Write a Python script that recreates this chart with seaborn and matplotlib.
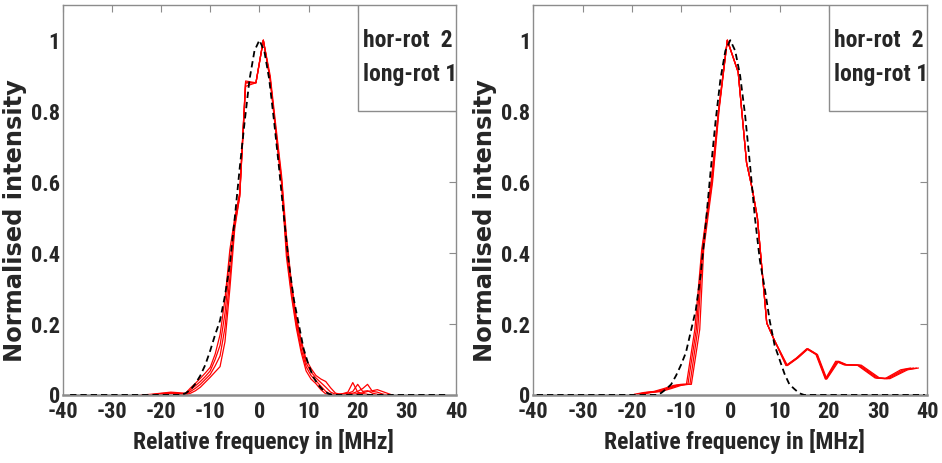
import numpy as np
import pandas as pd
import matplotlib
matplotlib.use("Agg")
import matplotlib.pyplot as plt
import seaborn as sns
from matplotlib.patches import Rectangle

sns.set_style("white")
# narrow bold face, close to the squeezed Arial of the original
plt.rcParams['font.family'] = ['Roboto Condensed', 'Liberation Sans', 'DejaVu Sans']
plt.rcParams['font.weight'] = 'bold'

# ---------------- data ----------------
XTICKS = [-40, -30, -20, -10, 0, 10, 20, 30, 40]
YTICKS = [0, 0.2, 0.4, 0.6, 0.8, 1.0]
YTICKLABELS = ["0", "0.2", "0.4", "0.6", "0.8", "1"]
LEGEND_LINES = ["hor-rot  2", "long-rot 1"]
XLABEL = "Relative frequency in [MHz]"
YLABEL = "Normalised intensity"

# left panel: measured spectra (shared frequency grid, 4 traces)
x_left = [-24, -22, -20, -18, -16, -15, -14, -13, -12, -11, -10, -9, -8, -7, -6, -5, -4,
          -2.8, -0.7, 0.8, 2.2, 3.5, 4.5, 5.5, 6.5, 7.5, 8.5, 9.5, 10.5, 11.5, 12.5,
          13.5, 14.5, 15.5, 17, 18, 19, 20, 21, 22, 23, 24, 25, 26, 27]
left_a = [0, 0.002, 0.005, 0.008, 0.006, 0.005, 0.02, 0.033, 0.047, 0.062, 0.078, 0.115,
          0.17, 0.27, 0.41, 0.50, 0.57, 0.885, 0.88, 1.0, 0.89, 0.72, 0.60, 0.39, 0.28,
          0.19, 0.12, 0.068, 0.045, 0.032, 0.015, 0.003, 0, 0, 0.004, 0.008, 0.035, 0.008,
          0.004, 0.002, 0, 0, 0, 0, 0]
left_b = [0, 0.001, 0.004, 0.006, 0.004, 0.003, 0.015, 0.026, 0.038, 0.052, 0.068, 0.10,
          0.14, 0.23, 0.37, 0.49, 0.565, 0.88, 0.88, 1.0, 0.89, 0.72, 0.60, 0.41, 0.29,
          0.20, 0.13, 0.08, 0.055, 0.04, 0.025, 0.01, 0.002, 0, 0.003, 0.005, 0.01, 0.03,
          0.01, 0.012, 0.005, 0.002, 0, 0, 0]
left_c = [0, 0, 0.003, 0.005, 0.003, 0.001, 0.01, 0.019, 0.03, 0.044, 0.058, 0.082,
          0.11, 0.19, 0.33, 0.48, 0.56, 0.88, 0.88, 1.0, 0.89, 0.73, 0.61, 0.43, 0.31,
          0.21, 0.145, 0.09, 0.065, 0.048, 0.035, 0.022, 0.008, 0.002, 0, 0.003, 0.005,
          0.01, 0.018, 0.03, 0.01, 0.008, 0.003, 0, 0]
left_d = [0, 0, 0.002, 0.004, 0.002, 0, 0.005, 0.012, 0.022, 0.036, 0.05, 0.065,
          0.08, 0.15, 0.30, 0.47, 0.56, 0.87, 0.88, 1.0, 0.90, 0.74, 0.62, 0.45, 0.32,
          0.22, 0.155, 0.10, 0.075, 0.055, 0.045, 0.038, 0.02, 0.005, 0.001, 0, 0.002,
          0.004, 0.006, 0.01, 0.012, 0.015, 0.01, 0.005, 0]

# right panel: measured spectra (shared intensities, 4 slightly shifted frequency sets)
y_right = [0.002, 0.007, 0.01, 0.018, 0.027, 0.03, 0.03, 0.185, 0.41, 0.60, 0.80, 1.0,
           0.91, 0.655, 0.578, 0.50, 0.203, 0.156, 0.083, 0.104, 0.13, 0.114, 0.045,
           0.095, 0.085, 0.084, 0.048, 0.046, 0.071, 0.076]
x_right_a = [-19.5, -17.5, -15.5, -13.5, -11.5, -10, -8.9, -7.2, -5.8, -3.9, -2.4, -0.6,
             1.6, 3.3, 4.5, 5.5, 7.4, 8.9, 11.3, 13.4, 15.5, 17.4, 19.3, 21.4, 23.1,
             25.8, 29.4, 31.4, 34.6, 36.6]
x_right_b = [-19, -17, -15, -13, -11, -9.5, -8.6, -6.9, -5.7, -3.8, -2.4, -0.6,
             1.6, 3.3, 4.5, 5.5, 7.4, 8.9, 11.4, 13.5, 15.6, 17.5, 19.4, 21.6, 23.3,
             26, 29.7, 31.7, 35.1, 37.2]
x_right_c = [-18.5, -16.5, -14.5, -12.5, -10.5, -9, -8.2, -6.6, -5.6, -3.7, -2.35, -0.6,
             1.6, 3.3, 4.5, 5.5, 7.4, 8.9, 11.5, 13.6, 15.7, 17.6, 19.5, 21.8, 23.5,
             26.3, 30, 32, 35.6, 37.8]
x_right_d = [-18, -16, -14, -12, -10, -8.5, -7.9, -6.2, -5.4, -3.6, -2.3, -0.6,
             1.6, 3.3, 4.5, 5.5, 7.4, 8.9, 11.6, 13.7, 15.8, 17.7, 19.6, 22, 23.7,
             26.6, 30.3, 32.4, 36, 38.2]

# fitted profiles (black dashed)
fit_x_left = [-38.5, -16, -15, -14, -13, -12, -11, -10, -9, -8, -7, -6, -5, -4, -3, -2, -1,
              0, 1, 2, 3, 4, 5, 6, 7, 8, 9, 10, 11, 12, 13, 14, 15, 38.4]
fit_y_left = [0, 0, 0.005, 0.015, 0.032, 0.055, 0.085, 0.125, 0.17, 0.21, 0.28, 0.37, 0.50,
              0.64, 0.77, 0.89, 0.97, 1.0, 0.97, 0.89, 0.77, 0.64, 0.50, 0.37, 0.27, 0.20,
              0.13, 0.085, 0.05, 0.028, 0.013, 0.004, 0, 0]
fit_x_right = [-39.3, -15, -14, -13, -12, -11, -10, -9, -8, -7, -6, -5, -4, -3, -2, -1,
               0, 1, 2, 3, 4, 5, 6, 7, 8, 9, 10, 11, 12, 13, 14, 15, 39.5]
fit_y_right = [0, 0, 0.006, 0.017, 0.03, 0.055, 0.085, 0.12, 0.18, 0.24, 0.34, 0.48, 0.63,
               0.77, 0.89, 0.97, 1.0, 0.97, 0.90, 0.79, 0.65, 0.50, 0.38, 0.30, 0.21, 0.14,
               0.10, 0.06, 0.03, 0.017, 0.005, 0, 0]

left_traces = [(x_left, left_a), (x_left, left_b), (x_left, left_c), (x_left, left_d)]
right_traces = [(x_right_a, y_right), (x_right_b, y_right), (x_right_c, y_right), (x_right_d, y_right)]

fig = plt.figure(figsize=(9.42, 4.63), dpi=100)
ax1 = fig.add_axes([0.0666, 0.1469, 0.4175, 0.8429])
ax2 = fig.add_axes([0.5661, 0.1469, 0.4183, 0.8429])

GRAY = "#8c8c8c"

def draw_panel(ax, traces, fx, fy):
    for xs, ys in traces:
        df = pd.DataFrame({"freq": xs, "inten": ys})
        sns.lineplot(data=df, x="freq", y="inten", ax=ax, color="#ff0000",
                     lw=0.9, estimator=None, sort=False, zorder=2)
    dfit = pd.DataFrame({"freq": fx, "inten": fy})
    sns.lineplot(data=dfit, x="freq", y="inten", ax=ax, color="black",
                 lw=1.3, linestyle=(0, (3.5, 2.2)), estimator=None, sort=False, zorder=3)
    ax.set_xlim(-40, 40)
    ax.set_ylim(0, 1.1)
    ax.set_xticks(XTICKS)
    ax.set_xticklabels([str(t) for t in XTICKS])
    ax.set_yticks(YTICKS)
    ax.set_yticklabels(YTICKLABELS)
    ax.tick_params(direction="in", top=True, right=True, length=5, width=0.8,
                   color=GRAY, labelsize=16)
    ax.tick_params(axis="x", pad=4)
    ax.tick_params(axis="y", pad=2)
    for lab in ax.get_xticklabels() + ax.get_yticklabels():
        lab.set_fontweight("bold")
    for sp in ax.spines.values():
        sp.set_color(GRAY)
        sp.set_linewidth(1.0)
    ax.spines["bottom"].set_linewidth(1.8)
    ax.set_xlabel(XLABEL, fontsize=17, fontweight="bold")
    ax.xaxis.set_label_coords(0.51, -0.088)
    ax.set_ylabel(YLABEL, fontsize=17.4, fontweight="bold",
                  family=["DejaVu Sans"])
    ax.yaxis.set_label_coords(-0.092, 0.448)
    # legend-like box in the upper right corner
    ax.add_patch(Rectangle((0.751, 0.7277), 0.249, 0.2723, transform=ax.transAxes,
                           facecolor="white", edgecolor=GRAY, lw=1.0, zorder=5))
    ax.text(0.763, 0.908, LEGEND_LINES[0], transform=ax.transAxes, fontsize=17,
            fontweight="bold", va="center", ha="left", zorder=6)
    ax.text(0.763, 0.822, LEGEND_LINES[1], transform=ax.transAxes, fontsize=17,
            fontweight="bold", va="center", ha="left", zorder=6)

draw_panel(ax1, left_traces, fit_x_left, fit_y_left)
draw_panel(ax2, right_traces, fit_x_right, fit_y_right)

fig.savefig("out.png", dpi=100)
